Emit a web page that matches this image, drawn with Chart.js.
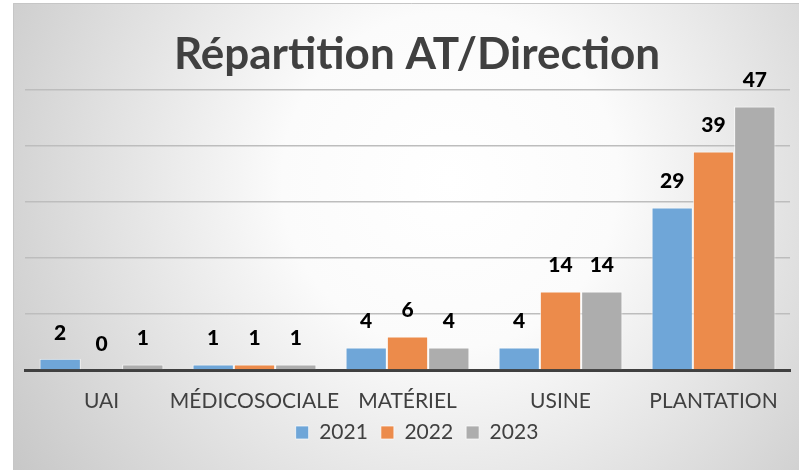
<!DOCTYPE html>
<html>
<head>
<meta charset="utf-8">
<script src="https://cdn.jsdelivr.net/npm/chart.js@4/dist/chart.umd.min.js"></script>
<style>
  html, body { margin: 0; padding: 0; background: #fff; overflow: hidden; }
  #wrap { width: 809px; height: 470px; position: relative; }
</style>
</head>
<body>
<div id="wrap"><canvas id="chart-0"></canvas></div>
<script>
  var categories = ['UAI', 'MÉDICOSOCIALE', 'MATÉRIEL', 'USINE', 'PLANTATION'];
  var years = ['2021', '2022', '2023'];
  var values2021 = [2, 1, 4, 4, 29];
  var values2022 = [0, 1, 6, 14, 39];
  var values2023 = [1, 1, 4, 14, 47];
  var colors = ['#6fa6d8', '#ec8b4b', '#adadad'];

  var FONT = 'Lato, "Open Sans", sans-serif';
  var TEXT = '#404040';

  // gradient panel behind the chart, like the office chart area
  var backdrop = {
    id: 'backdrop',
    beforeDraw: function(chart) {
      var ctx = chart.ctx;
      ctx.save();
      ctx.fillStyle = '#ffffff';
      ctx.fillRect(0, 0, chart.width, chart.height);
      var g = ctx.createRadialGradient(450, 180, 0, 450, 180, 560);
      g.addColorStop(0, '#ffffff');
      g.addColorStop(0.3, '#fbfbfb');
      g.addColorStop(1, '#c2c2c2');
      ctx.fillStyle = g;
      ctx.fillRect(13, 3, chart.width - 13, chart.height - 3);
      ctx.strokeStyle = '#c6c6c6';
      ctx.lineWidth = 1;
      ctx.beginPath();
      ctx.moveTo(13.5, chart.height);
      ctx.lineTo(13.5, 3.5);
      ctx.lineTo(chart.width, 3.5);
      ctx.stroke();
      ctx.restore();
    }
  };

  // value labels above each bar
  var valueLabels = {
    id: 'valueLabels',
    afterDatasetsDraw: function(chart) {
      var ctx = chart.ctx;
      ctx.save();
      ctx.font = '900 21px ' + FONT;
      ctx.fillStyle = '#000';
      ctx.textAlign = 'center';
      ctx.textBaseline = 'middle';
      chart.data.datasets.forEach(function(ds, i) {
        chart.getDatasetMeta(i).data.forEach(function(bar, j) {
          ctx.fillText(String(ds.data[j]), bar.x, bar.y - 26);
        });
      });
      ctx.restore();
    }
  };

  var data = {
    labels: categories,
    datasets: [values2021, values2022, values2023].map(function(vals, i) {
      return {
        label: years[i],
        data: vals,
        backgroundColor: colors[i],
        borderColor: 'rgba(255,255,255,0.7)',
        borderWidth: 1,
        categoryPercentage: 0.81,
        barPercentage: 1.0
      };
    })
  };

  var options = {
    responsive: true,
    maintainAspectRatio: false,
    animation: false,
    layout: { padding: { left: 25, right: 0, top: 0, bottom: 17 } },
    plugins: {
      title: {
        display: true,
        text: 'Répartition AT/Direction',
        color: TEXT,
        font: { family: FONT, size: 44, weight: 'bold', lineHeight: 1.2 },
        padding: { top: 28, bottom: 9 }
      },
      legend: {
        position: 'bottom',
        labels: {
          color: TEXT,
          font: { family: FONT, size: 21 },
          boxWidth: 13,
          boxHeight: 13,
          padding: 13
        }
      },
      tooltip: { enabled: false }
    },
    scales: {
      x: {
        grid: { display: false, drawTicks: false },
        border: { display: true, color: '#404040', width: 3 },
        ticks: { color: TEXT, font: { family: FONT, size: 21 }, padding: 19, maxRotation: 0, autoSkip: false },
        afterFit: function(scale) { scale.height = 39; }
      },
      y: {
        min: 0,
        max: 50,
        ticks: { display: false, stepSize: 10 },
        grid: { color: '#bdbdbd', lineWidth: 1.5, drawTicks: false },
        border: { display: false }
      },
      // empty strip on the right of the plot
      yRight: {
        type: 'linear',
        position: 'right',
        ticks: { display: false },
        grid: { display: false, drawTicks: false },
        border: { display: false },
        afterFit: function(scale) { scale.width = 19; }
      }
    }
  };

  var chart = new Chart('chart-0', {
    type: 'bar',
    data: data,
    options: options,
    plugins: [backdrop, valueLabels]
  });
</script>
</body>
</html>
